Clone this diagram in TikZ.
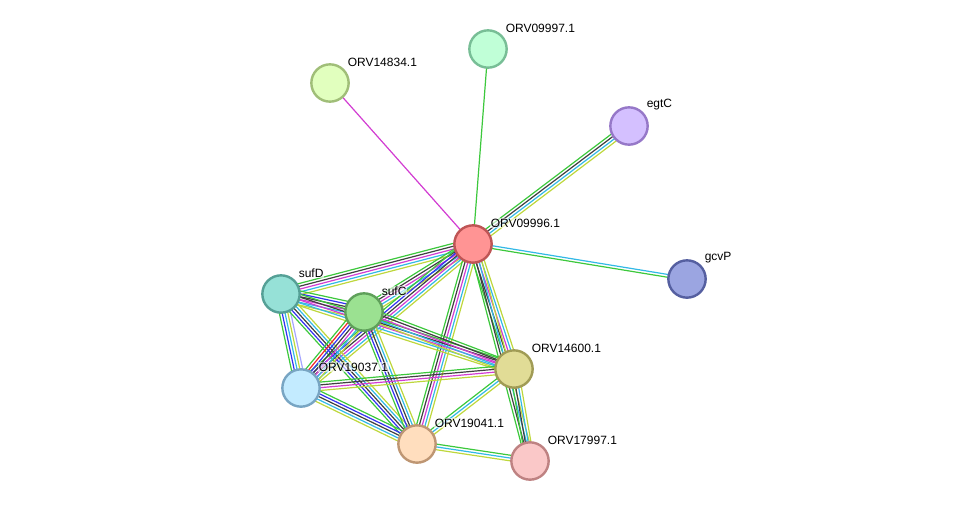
\documentclass[tikz,border=0pt]{standalone}
\usepackage{fontspec}
\setmainfont{Liberation Sans}
\usetikzlibrary{calc,backgrounds}

% evidence colours
\definecolor{cnb}{RGB}{60,200,60}
\definecolor{cfu}{RGB}{240,40,40}
\definecolor{cco}{RGB}{50,50,240}
\definecolor{cce}{RGB}{64,64,64}
\definecolor{cex}{RGB}{210,60,210}
\definecolor{cdb}{RGB}{50,185,230}
\definecolor{ctm}{RGB}{190,215,60}
\definecolor{chm}{RGB}{165,165,255}

\tikzset{
  prot/.style={draw, circle, minimum size=28pt, inner sep=0pt, line width=1.8pt},
  lbl/.style={anchor=south west, inner sep=0.6pt, font=\fontsize{9}{11}\selectfont,
    fill=white, fill opacity=0.6, text opacity=1, xshift=2pt, yshift=1pt},
  edge/.style={line width=0.9pt},
}

% one parallel line per colour
\newcommand{\stringedge}[3]{%
  \foreach \ecol [count=\i] in {#3} {\xdef\ncol{\i}}%
  \foreach \ecol [count=\i] in {#3} {%
    \pgfmathsetmacro\off{(\i-(\ncol+1)/2)*2.1}%
    \draw[edge, \ecol] ($(#1)!\off pt!90:(#2)$) -- ($(#2)!\off pt!-90:(#1)$);
  }%
}

\begin{document}
\begin{tikzpicture}[x=0.75pt, y=-0.75pt]
        \useasboundingbox (0,0) rectangle (975,507);

        \node (orv09996)[prot, fill={rgb,255:red,255;green,148;blue,148}, draw={rgb,255:red,190;green,85;blue,85}, label={[lbl]45:ORV09996.1}] at (473,244) {};
        \node (orv09997)[prot, fill={rgb,255:red,192;green,255;blue,215}, draw={rgb,255:red,120;green,190;blue,150}, label={[lbl]45:ORV09997.1}] at (488,49) {};
        \node (orv14834)[prot, fill={rgb,255:red,225;green,255;blue,190}, draw={rgb,255:red,160;green,190;blue,120}, label={[lbl]45:ORV14834.1}] at (330,83) {};
        \node (egtC)[prot, fill={rgb,255:red,212;green,192;blue,255}, draw={rgb,255:red,150;green,120;blue,200}, label={[lbl]45:egtC}] at (629,126) {};
        \node (gcvP)[prot, fill={rgb,255:red,155;green,165;blue,225}, draw={rgb,255:red,85;green,95;blue,160}, label={[lbl]45:gcvP}] at (687,279) {};
        \node (sufD)[prot, fill={rgb,255:red,150;green,225;blue,215}, draw={rgb,255:red,85;green,160;blue,150}, label={[lbl]45:sufD}] at (281,294) {};
        \node (sufC)[prot, fill={rgb,255:red,155;green,225;blue,145}, draw={rgb,255:red,95;green,160;blue,90}, label={[lbl]45:sufC}] at (364,312) {};
        \node (orv14600)[prot, fill={rgb,255:red,225;green,220;blue,150}, draw={rgb,255:red,160;green,155;blue,85}, label={[lbl]45:ORV14600.1}] at (514,369) {};
        \node (orv19037)[prot, fill={rgb,255:red,195;green,235;blue,255}, draw={rgb,255:red,120;green,165;blue,195}, label={[lbl]45:ORV19037.1}] at (301,388) {};
        \node (orv19041)[prot, fill={rgb,255:red,255;green,222;blue,190}, draw={rgb,255:red,190;green,150;blue,115}, label={[lbl]45:ORV19041.1}] at (417,444) {};
        \node (orv17997)[prot, fill={rgb,255:red,250;green,200;blue,200}, draw={rgb,255:red,190;green,130;blue,130}, label={[lbl]45:ORV17997.1}] at (530,461) {};

        \begin{scope}[on background layer]
        \stringedge{orv09996}{orv14834}{cex}
        \stringedge{orv09996}{orv09997}{cnb}
        \stringedge{egtC}{orv09996}{cnb,cce,cdb,ctm}
        \stringedge{orv09996}{gcvP}{cnb,cdb}
        \stringedge{orv09996}{sufD}{cnb,cce,cex,cdb,ctm}
        \stringedge{orv09996}{sufC}{cnb,cce,cex,cdb,ctm}
        \stringedge{orv09996}{orv14600}{cnb,cce,cex,cdb,ctm}
        \stringedge{orv09996}{orv19037}{cnb,cco,cce,cex,cdb,ctm}
        \stringedge{orv09996}{orv19041}{cnb,cce,cex,cdb,ctm}
        \stringedge{orv09996}{orv17997}{cnb,cce,cdb,ctm}
        \stringedge{sufC}{sufD}{cnb,cco,cce,cex,cdb,ctm}
        \stringedge{orv14600}{sufD}{cnb,cce,cex,cdb,ctm}
        \stringedge{sufD}{orv19037}{cnb,cco,cdb,ctm,chm}
        \stringedge{sufD}{orv19041}{cnb,cco,cce,cdb,ctm}
        \stringedge{orv14600}{sufC}{cnb,cce,cex,cdb,ctm}
        \stringedge{sufC}{orv19037}{cnb,cfu,cco,cce,cex,cdb,ctm}
        \stringedge{sufC}{orv19041}{cnb,cco,cce,cdb,ctm}
        \stringedge{orv14600}{orv19037}{cnb,cce,cex,ctm}
        \stringedge{orv14600}{orv19041}{cnb,cdb,ctm}
        \stringedge{orv14600}{orv17997}{cnb,cce,cdb,ctm}
        \stringedge{orv19041}{orv19037}{cnb,cco,cce,cdb,ctm}
        \stringedge{orv17997}{orv19041}{cnb,cdb,ctm}
        \end{scope}

    \end{tikzpicture}
\end{document}
